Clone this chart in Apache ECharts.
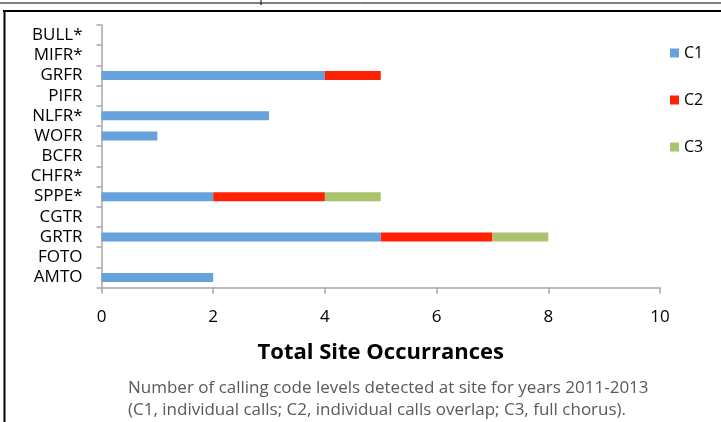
<!DOCTYPE html>
<html>
<head>
<meta charset="utf-8">
<script src="https://cdn.jsdelivr.net/npm/echarts@6/dist/echarts.min.js"></script>
<style>
html, body { margin:0; padding:0; background:#fff; }
#chart { width:721px; height:422px; }
</style>
</head>
<body>
<div id="chart"></div>
<script>
// sites, bottom to top
var sites = ['AMTO', 'FOTO', 'GRTR', 'CGTR', 'SPPE*', 'CHFR*', 'BCFR', 'WOFR', 'NLFR*', 'PIFR', 'GRFR', 'MIFR*', 'BULL*'];
var c1 = [2, 0, 5, 0, 2, 0, 0, 1, 3, 0, 4, 0, 0];
var c2 = [0, 0, 2, 0, 2, 0, 0, 0, 0, 0, 1, 0, 0];
var c3 = [0, 0, 1, 0, 1, 0, 0, 0, 0, 0, 0, 0, 0];
var xTicks = [0, 2, 4, 6, 8, 10];

var font = 'Open Sans';
var chart = echarts.init(document.getElementById('chart'));

function bar(name, data, color){
    return {
        name: name,
        type: 'bar',
        stack: 'total',
        data: data,
        barWidth: 9,
        itemStyle: {color: color},
        emphasis: {disabled: true}
    };
}

var option = {
    animation: false,
    textStyle: {fontFamily: font},
    grid: {left: 101.5, top: 25, right: 61, bottom: 134.5},
    legend: {
        orient: 'vertical',
        left: 665,
        top: 40,
        itemWidth: 9,
        itemHeight: 9,
        itemGap: 31,
        icon: 'rect',
        textStyle: {fontSize: 16, color: '#000', fontFamily: font},
        data: ['C1', 'C2', 'C3']
    },
    xAxis: {
        type: 'value',
        min: xTicks[0],
        max: xTicks[xTicks.length - 1],
        interval: 2,
        splitLine: {show: false},
        axisLine: {show: true, lineStyle: {color: '#a6a6a6', width: 1.5}},
        axisTick: {show: true, length: 6, lineStyle: {color: '#a6a6a6', width: 1.5}},
        axisLabel: {fontSize: 17, color: '#000', margin: 21},
        name: 'Total Site Occurrances',
        nameLocation: 'middle',
        nameGap: 54,
        nameTextStyle: {fontSize: 22, fontWeight: 'bold', color: '#000', fontFamily: font}
    },
    yAxis: {
        type: 'category',
        data: sites,
        axisLine: {lineStyle: {color: '#a6a6a6', width: 1.5}},
        axisTick: {show: true, length: 5, alignWithLabel: false, lineStyle: {color: '#a6a6a6', width: 1.5}},
        axisLabel: {fontSize: 17, color: '#000', margin: 19, interval: 0, padding: [3, 0, 0, 0]}
    },
    graphic: [
        {type: 'line', shape: {x1: 0, y1: 3, x2: 721, y2: 3}, style: {stroke: '#000', lineWidth: 1}},
        {type: 'line', shape: {x1: 3, y1: 11, x2: 721, y2: 11}, style: {stroke: '#000', lineWidth: 2}},
        {type: 'line', shape: {x1: 4.5, y1: 10, x2: 4.5, y2: 422}, style: {stroke: '#000', lineWidth: 2}},
        {type: 'line', shape: {x1: 261, y1: 0, x2: 261, y2: 5}, style: {stroke: '#000', lineWidth: 1}},
        {
            type: 'text', left: 128, top: 377,
            style: {
                text: 'Number of calling code levels detected at site for years 2011-2013\n(C1, individual calls; C2, individual calls overlap; C3, full chorus).',
                fontSize: 17, fill: '#595959', fontFamily: font, lineHeight: 22
            }
        }
    ],
    series: [
        bar('C1', c1, '#66a2dc'),
        bar('C2', c2, '#ff2200'),
        bar('C3', c3, '#a9c46c')
    ]
};
chart.setOption(option);
</script>
</body>
</html>
